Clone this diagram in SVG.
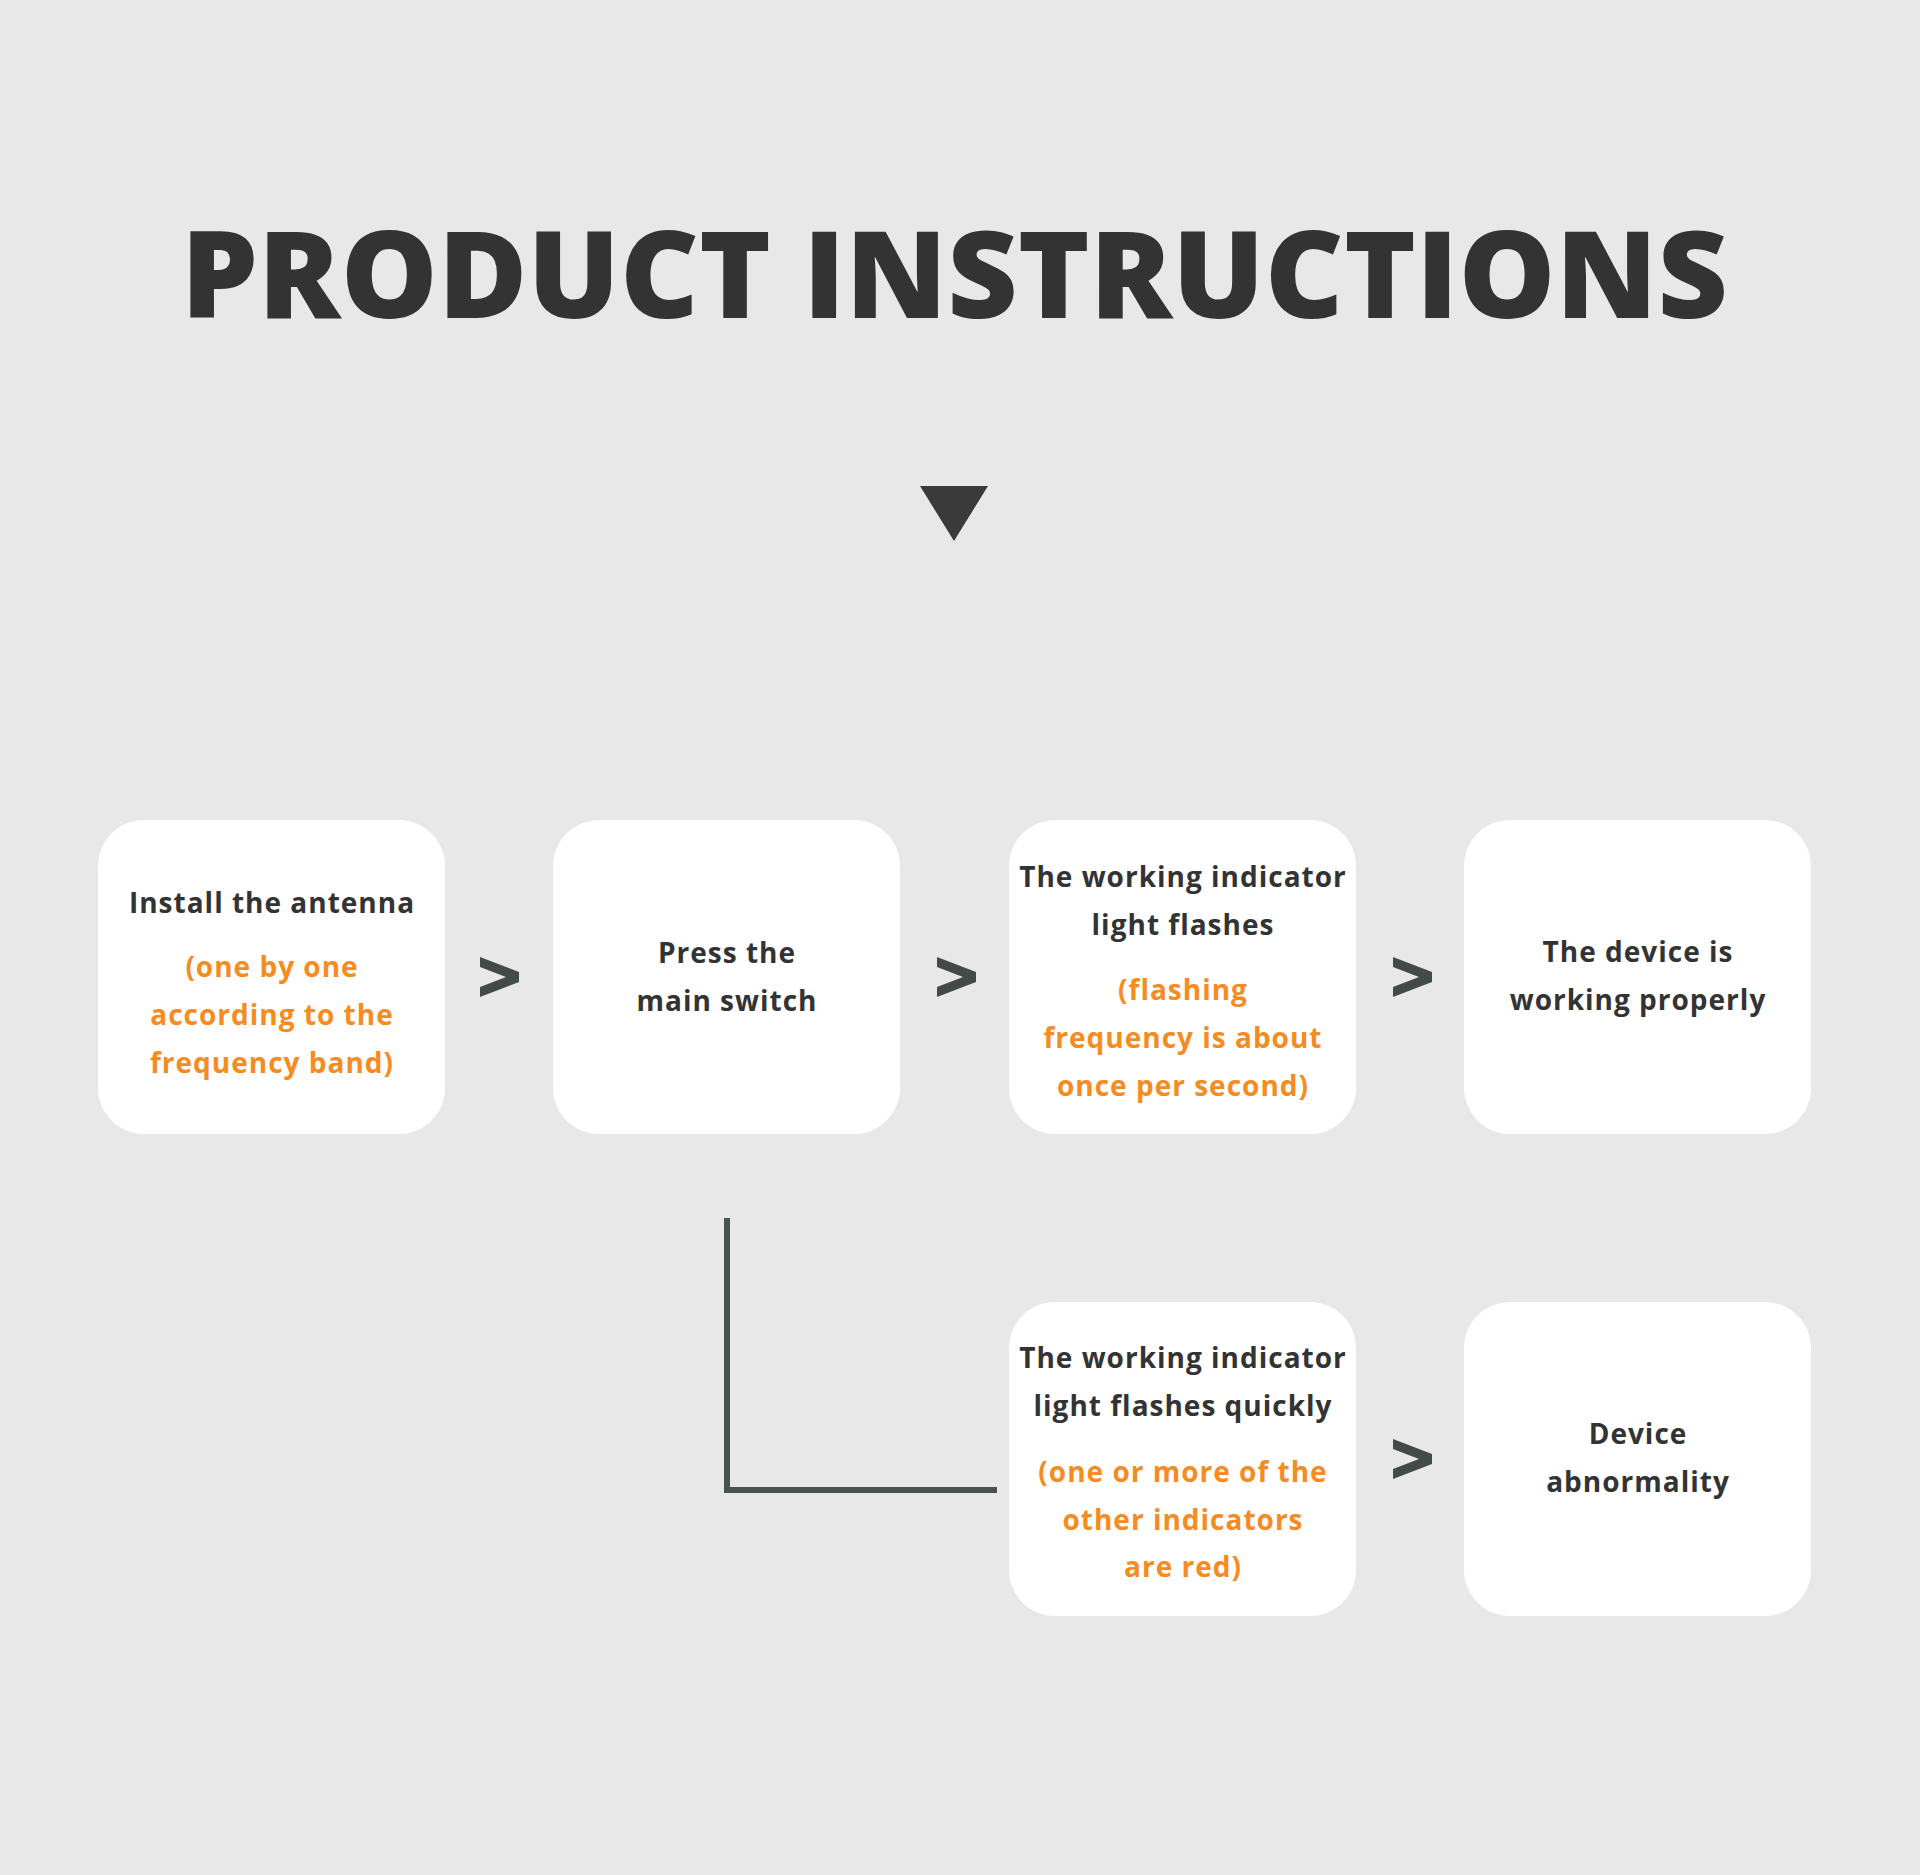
<svg xmlns="http://www.w3.org/2000/svg" width="1920" height="1875" viewBox="0 0 1920 1875">
<defs>
<style>
.box{fill:#ffffff}
.t{font-family:"Open Sans","Noto Sans","Liberation Sans",sans-serif;font-weight:700;font-size:28px;letter-spacing:1px;text-anchor:middle}
.d{fill:#333333}
.o{fill:#f68b1f}
.title{font-family:"Open Sans","Liberation Sans",sans-serif;font-weight:800;font-size:120px;fill:#333333}
.chev{fill:#434b49}
</style>
<polygon id="chev" points="0,-20 39,-5 39,5 0,20 0,10 26,0 0,-10"/>
</defs>
<rect x="0" y="0" width="1920" height="1875" fill="#e8e8e8"/>
<g id="title">
<text class="title" x="181" y="318" textLength="1547" lengthAdjust="spacingAndGlyphs">PRODUCT INSTRUCTIONS</text>
</g>
<g id="down-triangle">
<polygon points="920,486 988,486 954,541" fill="#3a3a3a"/>
</g>
<g id="connectors">
<use href="#chev" class="chev" x="480" y="977"/>
<use href="#chev" class="chev" x="937" y="977"/>
<use href="#chev" class="chev" x="1393" y="977"/>
<use href="#chev" class="chev" x="1393" y="1459"/>
<polyline points="727,1218 727,1490 997,1490" fill="none" stroke="#4a5250" stroke-width="6" stroke-linejoin="miter"/>
</g>
<g id="node1">
<rect class="box" x="98" y="820" width="347" height="314" rx="46"/>
<text class="t d" x="272" y="913">Install the antenna</text>
<text class="t o" x="272" y="977">(one by one</text>
<text class="t o" x="272" y="1025">according to the</text>
<text class="t o" x="272" y="1073">frequency band)</text>
</g>
<g id="node2">
<rect class="box" x="553" y="820" width="347" height="314" rx="46"/>
<text class="t d" x="727" y="963">Press the</text>
<text class="t d" x="727" y="1011">main switch</text>
</g>
<g id="node3">
<rect class="box" x="1009" y="820" width="347" height="314" rx="46"/>
<text class="t d" x="1183" y="887">The working indicator</text>
<text class="t d" x="1183" y="935">light flashes</text>
<text class="t o" x="1183" y="1000">(flashing</text>
<text class="t o" x="1183" y="1048">frequency is about</text>
<text class="t o" x="1183" y="1096">once per second)</text>
</g>
<g id="node4">
<rect class="box" x="1464" y="820" width="347" height="314" rx="46"/>
<text class="t d" x="1638" y="962">The device is</text>
<text class="t d" x="1638" y="1010">working properly</text>
</g>
<g id="node5">
<rect class="box" x="1009" y="1302" width="347" height="314" rx="46"/>
<text class="t d" x="1183" y="1368">The working indicator</text>
<text class="t d" x="1183" y="1416">light flashes quickly</text>
<text class="t o" x="1183" y="1482">(one or more of the</text>
<text class="t o" x="1183" y="1530">other indicators</text>
<text class="t o" x="1183" y="1577">are red)</text>
</g>
<g id="node6">
<rect class="box" x="1464" y="1302" width="347" height="314" rx="46"/>
<text class="t d" x="1638" y="1444">Device</text>
<text class="t d" x="1638" y="1492">abnormality</text>
</g>
</svg>
